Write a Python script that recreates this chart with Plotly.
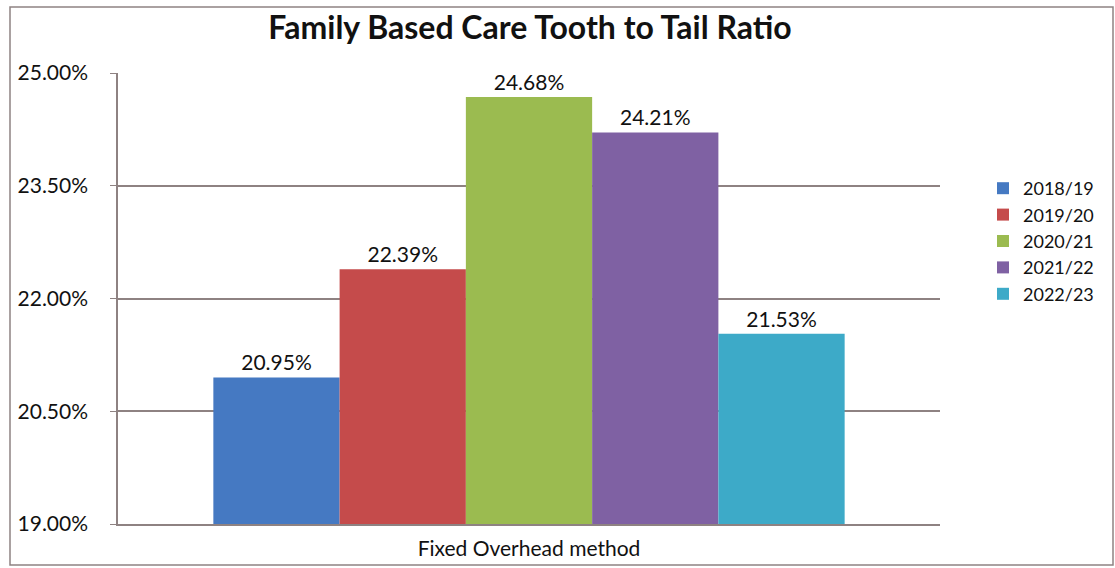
import plotly.graph_objects as go

categories = ["Fixed Overhead method"]
years = ["2018/19", "2019/20", "2020/21", "2021/22", "2022/23"]
values = [20.95, 22.39, 24.68, 24.21, 21.53]
colors = ["#4579C2", "#C54B4B", "#9BBB50", "#7F61A3", "#3DAAC8"]
tick_vals = [19.0, 20.5, 22.0, 23.5, 25.0]
tick_text = ["19.00%", "20.50%", "22.00%", "23.50%", "25.00%"]

FONT = "Lato"
fig = go.Figure()
for yr, v, c in zip(years, values, colors):
    fig.add_trace(go.Bar(
        x=categories, y=[v], name=yr,
        marker=dict(color=c, line=dict(width=0)),
        texttemplate="%{y:.2f}%", textposition="outside",
        textfont=dict(size=21, color="#111111", family=FONT),
        cliponaxis=False,
    ))

W, H = 1115, 568
L, R, T, B = 118, 175, 73, 44
pw, ph = W - L - R, H - T - B

def px(x):
    return (x - L) / pw

def py(y):
    return (H - B - y) / ph

fig.update_layout(
    width=W, height=H,
    margin=dict(l=L, r=R, t=T, b=B, autoexpand=False),
    paper_bgcolor="white", plot_bgcolor="white",
    barmode="group", bargap=0.232, bargroupgap=0,
    title=dict(text="<b>Family Based Care Tooth to Tail Ratio</b>",
               x=530 / W, xanchor="center", y=1 - 28 / H, yanchor="middle",
               font=dict(size=32, family=FONT, color="#111111")),
    font=dict(family=FONT, size=21, color="#111111"),
    legend=dict(x=px(983), xanchor="left", y=py(241), yanchor="middle",
                font=dict(size=18, family=FONT), traceorder="normal",
                bgcolor="rgba(0,0,0,0)", itemwidth=30),
    yaxis=dict(range=[19, 25], tickvals=tick_vals, ticktext=tick_text,
               showgrid=True, gridcolor="#8E8282", gridwidth=1.5,
               showline=True, linecolor="#8E8282", linewidth=1.5,
               ticks="outside", ticklen=6, tickcolor="#8E8282",
               ticklabelstandoff=18, zeroline=False,
               tickfont=dict(size=21, family=FONT, color="#111111")),
    xaxis=dict(showline=True, linecolor="#8E8282", linewidth=1.5,
               ticks="", showgrid=False, ticklabelstandoff=5,
               tickfont=dict(size=21, family=FONT, color="#111111")),
    shapes=[dict(type="rect", xref="paper", yref="paper",
                 x0=px(10), x1=px(1113), y0=py(565), y1=py(7),
                 line=dict(color="#8E8282", width=1.5), layer="below")],
)

fig.write_html("out.html")
